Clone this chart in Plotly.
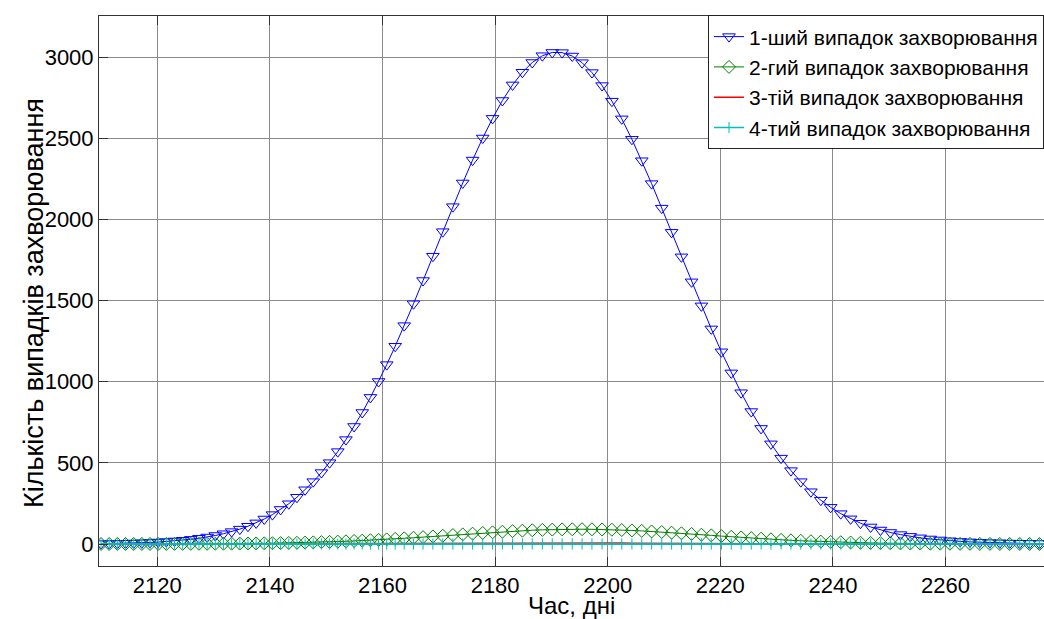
import plotly.graph_objects as go

# time points (days) - adaptive solver steps
t = [2110.0, 2111.45, 2112.9, 2114.35, 2115.8, 2117.25, 2118.7, 2120.15, 2121.6, 2123.05,
     2124.5, 2125.95, 2127.4, 2128.85, 2130.3, 2131.75, 2133.2, 2134.65, 2136.1, 2137.55,
     2139.0, 2140.45, 2141.9, 2143.35, 2144.8, 2146.25, 2147.7, 2149.15, 2150.6, 2152.05,
     2153.5, 2154.95, 2156.4, 2157.85, 2159.3, 2160.75, 2162.25, 2163.85, 2165.5, 2167.2,
     2168.95, 2170.7, 2172.5, 2174.25, 2176.0, 2177.8, 2179.55, 2181.3, 2183.1, 2184.85,
     2186.6, 2188.4, 2190.15, 2191.9, 2193.7, 2195.45, 2197.2, 2199.0, 2200.75, 2202.5,
     2204.3, 2206.05, 2207.8, 2209.6, 2211.35, 2213.1, 2214.9, 2216.65, 2218.4, 2220.2,
     2221.95, 2223.7, 2225.5, 2227.25, 2229.0, 2230.8, 2232.55, 2234.3, 2236.1, 2237.85,
     2239.6, 2241.4, 2243.15, 2244.9, 2246.7, 2248.45, 2250.2, 2252.0, 2253.75, 2255.5,
     2257.3, 2259.05, 2260.8, 2262.6, 2264.35, 2266.1, 2267.9, 2269.65, 2271.4, 2273.2,
     2274.95, 2276.7, 2278.5]

case1 = [2.2, 2.8, 3.6, 4.7, 6.0, 7.6, 9.5, 12.0, 15.0, 18.7,
         23.2, 28.6, 35.1, 42.9, 52.3, 63.3, 76.3, 91.6, 109.4, 130,
         154, 181, 213, 248, 288, 334, 384, 440, 501, 569,
         643, 724, 810, 903, 1001, 1105, 1218, 1345, 1480, 1623,
         1773, 1924, 2078, 2224, 2365, 2501, 2622, 2732, 2828, 2906,
         2966, 3008, 3028, 3027, 3006, 2965, 2904, 2824, 2728, 2619,
         2493, 2361, 2220, 2069, 1920, 1769, 1615, 1467, 1325, 1184,
         1054, 932, 816, 712, 617, 529, 452, 384, 322, 270,
         226, 187, 155, 128, 105, 86, 71, 58, 47, 38,
         31, 25, 20, 16, 13, 10.5, 8.5, 7.0, 5.6, 4.5,
         3.6, 2.9, 2.3]

case2 = [0.07, 0.09, 0.12, 0.15, 0.19, 0.23, 0.29, 0.36, 0.44, 0.55,
         0.67, 0.82, 1.0, 1.2, 1.5, 1.75, 2.1, 2.5, 3.0, 3.5,
         4.1, 4.8, 5.6, 6.5, 7.5, 8.7, 10.0, 11.4, 13.0, 14.7,
         16.6, 18.7, 20.9, 23.3, 25.8, 28.6, 31.6, 34.9, 38.5, 42.4,
         46.6, 50.8, 55.2, 59.4, 63.7, 67.9, 71.9, 75.6, 79.1, 82.2,
         84.9, 87.2, 88.9, 90.1, 90.8, 91.0, 90.6, 89.6, 88.1, 86.1,
         83.5, 80.7, 77.4, 73.7, 69.9, 65.9, 61.6, 57.3, 53.3, 48.6,
         44.4, 40.5, 36.4, 32.6, 29.0, 25.7, 22.6, 19.8, 17.2, 14.9,
         12.7, 10.9, 9.2, 7.8, 6.5, 5.4, 4.5, 3.7, 3.0, 2.5,
         2.0, 1.6, 1.3, 1.0, 0.85, 0.6, 0.5, 0.4, 0.3, 0.25,
         0.2, 0.15, 0.1]

case3 = [0.0, 0.0, 0.0, 0.0, 0.0, 0.0, 0.0, 0.0, 0.0, 0.0,
         0.0, 0.0, 0.0, 0.0, 0.0, 0.0, 0.0, 0.0, 0.0, 0.0,
         0.01, 0.01, 0.02, 0.03, 0.04, 0.05, 0.07, 0.09, 0.11, 0.14,
         0.18, 0.22, 0.27, 0.32, 0.37, 0.42, 0.53, 0.69, 0.88, 1.12,
         1.41, 1.75, 2.15, 2.59, 3.06, 3.59, 4.11, 4.64, 5.17, 5.65,
         6.09, 6.46, 6.74, 6.92, 7.0, 6.96, 6.82, 6.57, 6.23, 5.82,
         5.34, 4.82, 4.3, 3.76, 3.25, 2.76, 2.29, 1.89, 1.53, 1.22,
         0.95, 0.74, 0.56, 0.42, 0.31, 0.23, 0.17, 0.12, 0.09, 0.06,
         0.04, 0.03, 0.02, 0.01, 0.01, 0.0, 0.0, 0.0, 0.0, 0.0,
         0.0, 0.0, 0.0, 0.0, 0.0, 0.0, 0.0, 0.0, 0.0, 0.0,
         0.0, 0.0, 0.0]

case4 = [0.0] * 30 + [0.01, 0.01, 0.02, 0.02, 0.03, 0.04, 0.05, 0.06, 0.08, 0.1,
                      0.12, 0.14, 0.17, 0.2, 0.23, 0.26, 0.29, 0.32, 0.35, 0.37,
                      0.39, 0.4, 0.41, 0.41, 0.4, 0.39, 0.37, 0.35, 0.32, 0.29,
                      0.26, 0.23, 0.2, 0.17, 0.14, 0.12, 0.1, 0.08, 0.06, 0.05,
                      0.04, 0.03, 0.02, 0.02, 0.01, 0.01] + [0.0] * 27

names = ["1-ший випадок захворювання", "2-гий випадок захворювання",
         "3-тій випадок захворювання", "4-тий випадок захворювання"]

x_title = "Час, дні"
y_title = "Кількість випадків захворювання"
x_ticks = [2120, 2140, 2160, 2180, 2200, 2220, 2240, 2260]
y_ticks = [0, 500, 1000, 1500, 2000, 2500, 3000]

FONT = "Liberation Sans, Arial, sans-serif"

fig = go.Figure()
fig.add_trace(go.Scatter(x=t, y=case1, name=names[0], mode="lines+markers",
                         line=dict(color="#0000ff", width=1),
                         marker=dict(symbol="triangle-down-open", size=11, color="#0000ff",
                                     line=dict(width=1, color="#0000ff"))))
fig.add_trace(go.Scatter(x=t, y=case2, name=names[1], mode="lines+markers",
                         line=dict(color="#008000", width=1),
                         marker=dict(symbol="diamond-open", size=10, color="#008000",
                                     line=dict(width=1, color="#008000"))))
fig.add_trace(go.Scatter(x=t, y=case3, name=names[2], mode="lines",
                         line=dict(color="#ff0000", width=1.5)))
fig.add_trace(go.Scatter(x=t, y=case4, name=names[3], mode="lines+markers",
                         line=dict(color="#00bfbf", width=1.5),
                         marker=dict(symbol="cross-thin-open", size=8, color="#00bfbf",
                                     line=dict(width=1, color="#00bfbf"))))

axis_common = dict(showline=True, linecolor="#333333", linewidth=1,
                   ticks="inside", ticklen=9, tickcolor="#333333", tickwidth=1,
                   showgrid=True, gridcolor="#8a8a8a", gridwidth=1,
                   zeroline=False, tickfont=dict(family=FONT, size=22, color="black"))

fig.update_layout(
    width=1044, height=619,
    margin=dict(l=99, r=0, t=16, b=53),
    paper_bgcolor="white", plot_bgcolor="white",
    font=dict(family=FONT, color="black"),
    showlegend=True,
    legend=dict(x=1, xanchor="right", y=1.001, yanchor="top",
                bgcolor="white", bordercolor="#222222", borderwidth=1,
                font=dict(family=FONT, size=21, color="black"),
                itemwidth=30),
    xaxis=dict(range=[2109.64, 2277.5], tickvals=x_ticks, mirror="ticks", **axis_common),
    yaxis=dict(range=[-135.5, 3252.6], tickvals=y_ticks, mirror=False, **axis_common),
    annotations=[
        dict(text=x_title, xref="paper", yref="paper", x=0.5, y=(566 - 605) / 550,
             xanchor="center", yanchor="middle", showarrow=False,
             font=dict(family=FONT, size=24, color="black")),
        dict(text=y_title, xref="paper", yref="paper", x=(34 - 99) / 945, y=(566 - 303) / 550,
             xanchor="center", yanchor="middle", showarrow=False, textangle=-90,
             font=dict(family=FONT, size=27, color="black")),
    ],
)

fig.write_html("out.html")
